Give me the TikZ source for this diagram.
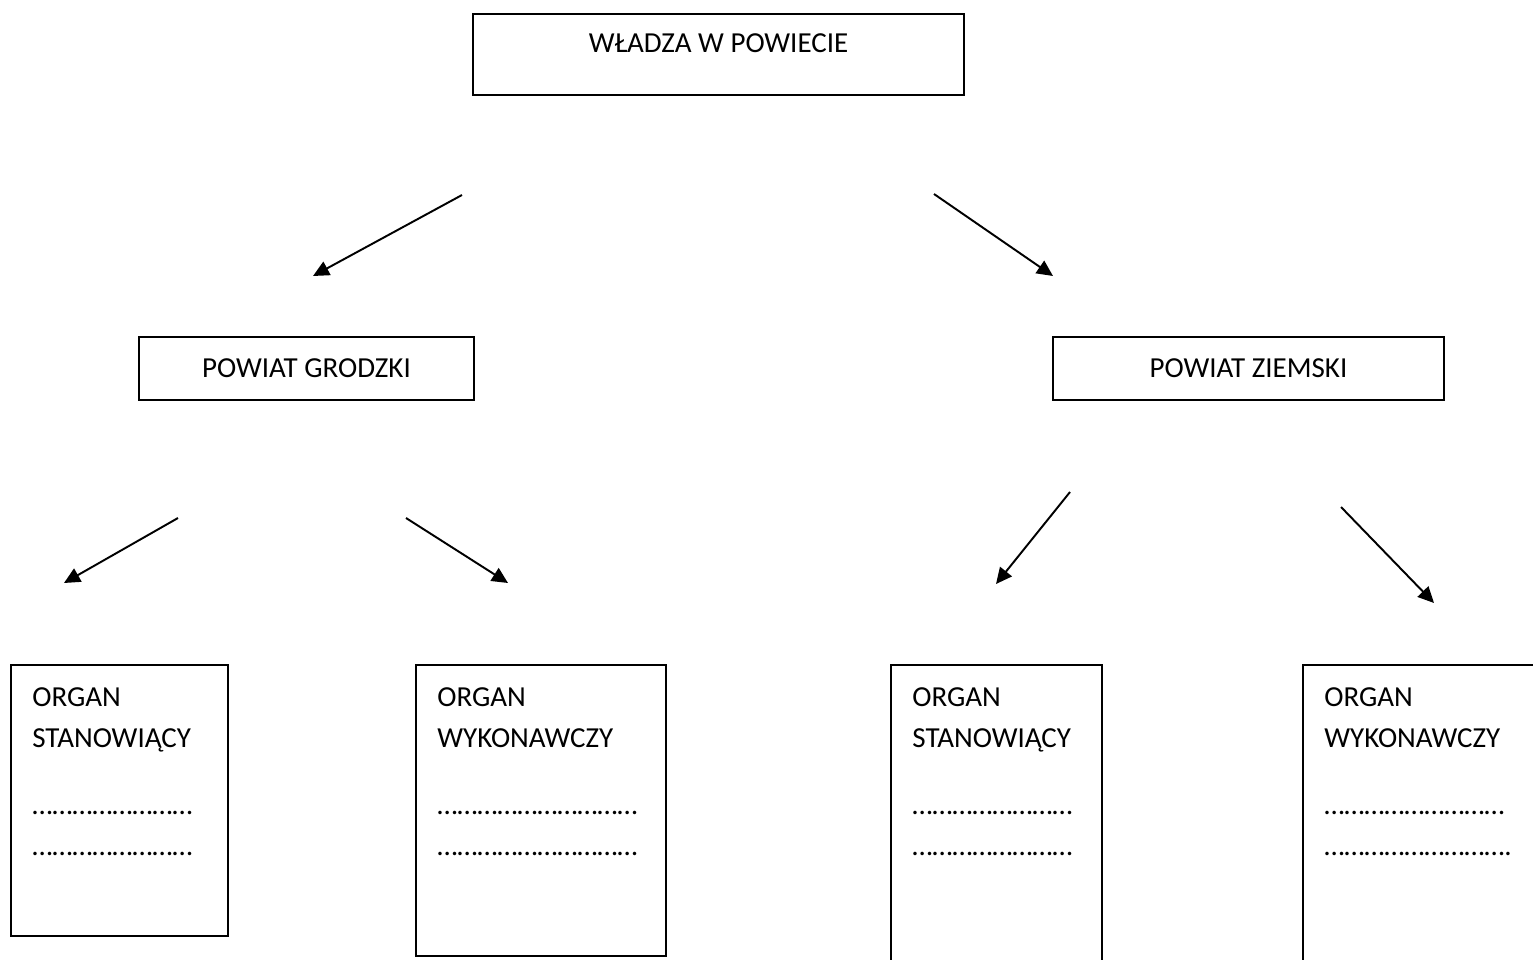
\documentclass[tikz,border=0pt]{standalone}
\usepackage{fontspec}
\setmainfont{Carlito}
\usetikzlibrary{positioning,arrows.meta}
\newcommand\kropki[1]{\foreach\k in {1,...,#1}{…}}

\begin{document}
\begin{tikzpicture}[
        box/.style={draw,line width=1.1pt,font=\fontsize{16.5pt}{23.3pt}\selectfont},
        orgbox/.style={draw,line width=1.1pt,anchor=north west},
        orgtext/.style={align=left,inner sep=0pt,font=\fontsize{16.5pt}{23.3pt}\selectfont},
        arr/.style={-{Triangle[length=0.32cm,width=0.3cm]},line width=1.1pt}]
        \useasboundingbox (0,0) rectangle (30.66,-19.2);

        \node[box,minimum width=9.82cm,minimum height=1.62cm,text height=0.38cm,text depth=0.44cm] (wladza) at (14.37,-1.09){WŁADZA W POWIECIE};
        \node[box,minimum width=6.70cm,minimum height=1.26cm] (grodzki) at (6.13,-7.37){POWIAT GRODZKI};
        \node[box,minimum width=7.82cm,minimum height=1.26cm] (ziemski) at (24.97,-7.37){POWIAT ZIEMSKI};

        % organy powiatu grodzkiego
        \node[orgbox,minimum width=4.34cm,minimum height=5.42cm] (sg) at (0.20,-13.28){};
        \node[orgbox,minimum width=5.00cm,minimum height=5.82cm] (wg) at (8.30,-13.28){};
        % organy powiatu ziemskiego
        \node[orgbox,minimum width=4.22cm,minimum height=6.2cm] (sz) at (17.80,-13.28){};
        \node[orgbox,minimum width=5.20cm,minimum height=6.2cm] (wz) at (26.04,-13.28){};

        \node[orgtext,below right=0.46cm and 0.44cm of sg.north west] (sg-t){ORGAN\\STANOWIĄCY\\[0.52cm]\kropki{8}\\\kropki{8}};
        \node[orgtext,below right=0.46cm and 0.44cm of wg.north west] (wg-t){ORGAN\\WYKONAWCZY\\[0.52cm]\kropki{10}\\\kropki{10}};
        \node[orgtext,below right=0.46cm and 0.44cm of sz.north west] (sz-t){ORGAN\\STANOWIĄCY\\[0.52cm]\kropki{8}\\\kropki{8}};
        \node[orgtext,below right=0.46cm and 0.44cm of wz.north west] (wz-t){ORGAN\\WYKONAWCZY\\[0.52cm]\kropki{9}\\\kropki{9}.};

        \coordinate (a1s) at (9.24,-3.90);  \coordinate (a1e) at (6.26,-5.52);
        \coordinate (a2s) at (18.68,-3.88); \coordinate (a2e) at (21.06,-5.52);
        \coordinate (a3s) at (3.56,-10.36); \coordinate (a3e) at (1.28,-11.66);
        \coordinate (a4s) at (8.12,-10.36); \coordinate (a4e) at (10.16,-11.66);
        \coordinate (a5s) at (21.40,-9.84); \coordinate (a5e) at (19.92,-11.68);
        \coordinate (a6s) at (26.82,-10.14); \coordinate (a6e) at (28.68,-12.06);

        \draw[arr] (a1s) -- (a1e);
        \draw[arr] (a2s) -- (a2e);
        \draw[arr] (a3s) -- (a3e);
        \draw[arr] (a4s) -- (a4e);
        \draw[arr] (a5s) -- (a5e);
        \draw[arr] (a6s) -- (a6e);
    \end{tikzpicture}
\end{document}
